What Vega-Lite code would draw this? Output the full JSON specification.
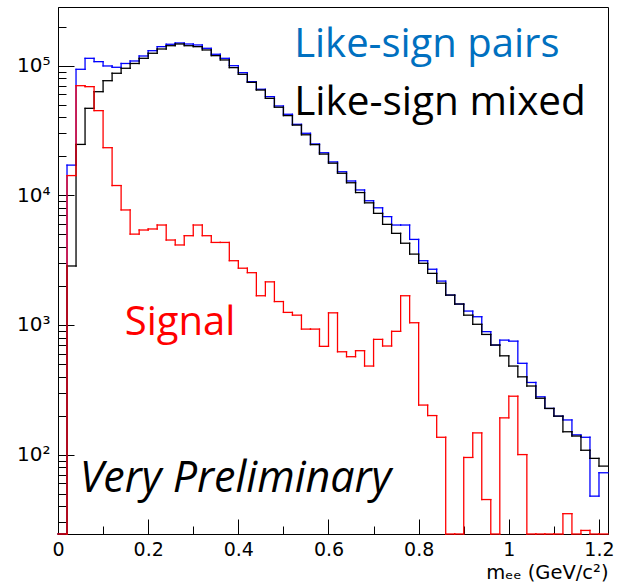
{
  "$schema": "https://vega.github.io/schema/vega-lite/v6.json",
  "width": 550,
  "height": 527,
  "autosize": {"type": "none"},
  "padding": {"left": 58, "top": 7, "right": 17, "bottom": 53},
  "background": "white",
  "config": {
    "view": {"stroke": "black", "strokeWidth": 1},
    "axis": {"grid": false, "domainColor": "black", "domainWidth": 1, "tickColor": "black", "tickWidth": 1, "labelColor": "black", "labelFont": "DejaVu Sans", "labelFontSize": 19, "labelOverlap": false, "labelFlush": false, "titleColor": "black", "titleFont": "DejaVu Sans", "titleFontWeight": "normal"}
  },
  "datasets": {
    "bins": [
      {"lo": 0.00, "hi": 0.02, "pairs": 0, "mixed": 0, "signal": 0},
      {"lo": 0.02, "hi": 0.04, "pairs": 17100, "mixed": 2850, "signal": 14200},
      {"lo": 0.04, "hi": 0.06, "pairs": 93800, "mixed": 24700, "signal": 70100},
      {"lo": 0.06, "hi": 0.08, "pairs": 114000, "mixed": 46900, "signal": 68900},
      {"lo": 0.08, "hi": 0.10, "pairs": 107400, "mixed": 63000, "signal": 45000},
      {"lo": 0.10, "hi": 0.12, "pairs": 99500, "mixed": 76600, "signal": 23300},
      {"lo": 0.12, "hi": 0.14, "pairs": 97200, "mixed": 87400, "signal": 11900},
      {"lo": 0.14, "hi": 0.16, "pairs": 104000, "mixed": 95500, "signal": 7710},
      {"lo": 0.16, "hi": 0.18, "pairs": 108700, "mixed": 104000, "signal": 5020},
      {"lo": 0.18, "hi": 0.20, "pairs": 118800, "mixed": 114000, "signal": 5400},
      {"lo": 0.20, "hi": 0.22, "pairs": 130500, "mixed": 124700, "signal": 5500},
      {"lo": 0.22, "hi": 0.24, "pairs": 140200, "mixed": 134500, "signal": 5900},
      {"lo": 0.24, "hi": 0.26, "pairs": 146300, "mixed": 142600, "signal": 4520},
      {"lo": 0.26, "hi": 0.28, "pairs": 149700, "mixed": 147000, "signal": 4140},
      {"lo": 0.28, "hi": 0.30, "pairs": 147000, "mixed": 142600, "signal": 4880},
      {"lo": 0.30, "hi": 0.32, "pairs": 144500, "mixed": 140200, "signal": 5900},
      {"lo": 0.32, "hi": 0.34, "pairs": 136200, "mixed": 132200, "signal": 4880},
      {"lo": 0.34, "hi": 0.36, "pairs": 122500, "mixed": 119500, "signal": 4330},
      {"lo": 0.36, "hi": 0.38, "pairs": 114000, "mixed": 110700, "signal": 4330},
      {"lo": 0.38, "hi": 0.40, "pairs": 100000, "mixed": 96600, "signal": 3130},
      {"lo": 0.40, "hi": 0.42, "pairs": 88300, "mixed": 85800, "signal": 2740},
      {"lo": 0.42, "hi": 0.44, "pairs": 75300, "mixed": 74400, "signal": 2530},
      {"lo": 0.44, "hi": 0.46, "pairs": 65800, "mixed": 64900, "signal": 1680},
      {"lo": 0.46, "hi": 0.48, "pairs": 57700, "mixed": 56000, "signal": 2150},
      {"lo": 0.48, "hi": 0.50, "pairs": 48900, "mixed": 47800, "signal": 1515},
      {"lo": 0.50, "hi": 0.52, "pairs": 42200, "mixed": 41200, "signal": 1250},
      {"lo": 0.52, "hi": 0.54, "pairs": 35300, "mixed": 34800, "signal": 1190},
      {"lo": 0.54, "hi": 0.56, "pairs": 30100, "mixed": 29300, "signal": 929},
      {"lo": 0.56, "hi": 0.58, "pairs": 24900, "mixed": 24600, "signal": 929},
      {"lo": 0.58, "hi": 0.60, "pairs": 21300, "mixed": 20800, "signal": 684},
      {"lo": 0.60, "hi": 0.62, "pairs": 18100, "mixed": 17700, "signal": 1240},
      {"lo": 0.62, "hi": 0.64, "pairs": 15200, "mixed": 14800, "signal": 621},
      {"lo": 0.64, "hi": 0.66, "pairs": 12900, "mixed": 12500, "signal": 569},
      {"lo": 0.66, "hi": 0.68, "pairs": 11000, "mixed": 10500, "signal": 633},
      {"lo": 0.68, "hi": 0.70, "pairs": 9080, "mixed": 8750, "signal": 482},
      {"lo": 0.70, "hi": 0.72, "pairs": 8010, "mixed": 7260, "signal": 774},
      {"lo": 0.72, "hi": 0.74, "pairs": 6850, "mixed": 5970, "signal": 688},
      {"lo": 0.74, "hi": 0.76, "pairs": 5900, "mixed": 5090, "signal": 893},
      {"lo": 0.76, "hi": 0.78, "pairs": 5900, "mixed": 4270, "signal": 1680},
      {"lo": 0.78, "hi": 0.80, "pairs": 4570, "mixed": 3520, "signal": 1040},
      {"lo": 0.80, "hi": 0.82, "pairs": 3130, "mixed": 2990, "signal": 241},
      {"lo": 0.82, "hi": 0.84, "pairs": 2690, "mixed": 2500, "signal": 200},
      {"lo": 0.84, "hi": 0.86, "pairs": 2180, "mixed": 2100, "signal": 136},
      {"lo": 0.86, "hi": 0.88, "pairs": 1700, "mixed": 1700, "signal": 0},
      {"lo": 0.88, "hi": 0.90, "pairs": 1450, "mixed": 1450, "signal": 0},
      {"lo": 0.90, "hi": 0.92, "pairs": 1280, "mixed": 1190, "signal": 95},
      {"lo": 0.92, "hi": 0.94, "pairs": 1157, "mixed": 1012, "signal": 147},
      {"lo": 0.94, "hi": 0.96, "pairs": 888, "mixed": 845, "signal": 45},
      {"lo": 0.96, "hi": 0.98, "pairs": 700, "mixed": 700, "signal": 0},
      {"lo": 0.98, "hi": 1.00, "pairs": 764, "mixed": 578, "signal": 192},
      {"lo": 1.00, "hi": 1.02, "pairs": 750, "mixed": 482, "signal": 282},
      {"lo": 1.02, "hi": 1.04, "pairs": 506, "mixed": 398, "signal": 100},
      {"lo": 1.04, "hi": 1.06, "pairs": 360, "mixed": 338, "signal": 0},
      {"lo": 1.06, "hi": 1.08, "pairs": 279, "mixed": 272, "signal": 0},
      {"lo": 1.08, "hi": 1.10, "pairs": 227, "mixed": 227, "signal": 0},
      {"lo": 1.10, "hi": 1.12, "pairs": 198, "mixed": 198, "signal": 0},
      {"lo": 1.12, "hi": 1.14, "pairs": 185, "mixed": 150, "signal": 35},
      {"lo": 1.14, "hi": 1.16, "pairs": 142, "mixed": 139, "signal": 0},
      {"lo": 1.16, "hi": 1.18, "pairs": 136, "mixed": 108, "signal": 26},
      {"lo": 1.18, "hi": 1.20, "pairs": 47.8, "mixed": 93.5, "signal": -46},
      {"lo": 1.20, "hi": 1.22, "pairs": 72.4, "mixed": 81.5, "signal": -9}
    ]
  },
  "layer": [
    {
      "data": {"name": "bins"},
      "mark": {"type": "rule", "color": "#0000ff", "strokeWidth": 1.3, "strokeCap": "square"},
      "encoding": {
        "x": {
          "field": "lo", "type": "quantitative",
          "scale": {"domain": [0, 1.22], "nice": false, "zero": false},
          "axis": {
            "title": "mₑₑ (GeV/c²)",
            "values": [0, 0.05, 0.1, 0.15, 0.2, 0.25, 0.3, 0.35, 0.4, 0.45, 0.5, 0.55, 0.6, 0.65, 0.7, 0.75, 0.8, 0.85, 0.9, 0.95, 1, 1.05, 1.1, 1.15, 1.2],
            "labelExpr": "abs(datum.value * 5 - round(datum.value * 5)) < 1e-6 ? format(datum.value, '~g') : ''",
            "tickSize": {"condition": {"test": "abs(datum.value * 5 - round(datum.value * 5)) < 1e-6", "value": -15}, "value": -8},
            "labelPadding": 21,
            "titleFontSize": 19.5,
            "titleAnchor": "end",
            "titleBaseline": "alphabetic",
            "titleY": 44
          }
        },
        "x2": {"field": "hi"},
        "y": {
          "field": "pairs", "type": "quantitative",
          "scale": {"type": "log", "domain": [24.4, 283600], "nice": false, "clamp": true},
          "axis": {
            "title": null,
            "values": [30, 40, 50, 60, 70, 80, 90, 100, 200, 300, 400, 500, 600, 700, 800, 900, 1000, 2000, 3000, 4000, 5000, 6000, 7000, 8000, 9000, 10000, 20000, 30000, 40000, 50000, 60000, 70000, 80000, 90000, 100000, 200000],
            "labelExpr": "datum.value == 100 ? '10²' : datum.value == 1000 ? '10³' : datum.value == 10000 ? '10⁴' : datum.value == 100000 ? '10⁵' : ''",
            "tickSize": {"condition": {"test": "indexof([100, 1000, 10000, 100000], datum.value) >= 0", "value": -16}, "value": -8},
            "labelFontSize": 20,
            "labelPadding": 24
          }
        }
      }
    },
    {
      "data": {"name": "bins"},
      "transform": [
        {"window": [{"op": "lead", "field": "pairs", "as": "next"}], "sort": [{"field": "lo"}]},
        {"filter": "datum.next != null"}
      ],
      "mark": {"type": "rule", "color": "#0000ff", "strokeWidth": 1.3, "strokeCap": "square"},
      "encoding": {
        "x": {"field": "hi", "type": "quantitative"},
        "y": {"field": "pairs", "type": "quantitative"},
        "y2": {"field": "next"}
      }
    },
    {
      "data": {"name": "bins"},
      "mark": {"type": "rule", "color": "#000000", "strokeWidth": 1.3, "strokeCap": "square"},
      "encoding": {
        "x": {"field": "lo", "type": "quantitative"},
        "x2": {"field": "hi"},
        "y": {"field": "mixed", "type": "quantitative"}
      }
    },
    {
      "data": {"name": "bins"},
      "transform": [
        {"window": [{"op": "lead", "field": "mixed", "as": "next"}], "sort": [{"field": "lo"}]},
        {"filter": "datum.next != null"}
      ],
      "mark": {"type": "rule", "color": "#000000", "strokeWidth": 1.3, "strokeCap": "square"},
      "encoding": {
        "x": {"field": "hi", "type": "quantitative"},
        "y": {"field": "mixed", "type": "quantitative"},
        "y2": {"field": "next"}
      }
    },
    {
      "data": {"name": "bins"},
      "mark": {"type": "rule", "color": "#ff0000", "strokeWidth": 1.3, "strokeCap": "square"},
      "encoding": {
        "x": {"field": "lo", "type": "quantitative"},
        "x2": {"field": "hi"},
        "y": {"field": "signal", "type": "quantitative"}
      }
    },
    {
      "data": {"name": "bins"},
      "transform": [
        {"window": [{"op": "lead", "field": "signal", "as": "next"}], "sort": [{"field": "lo"}]},
        {"filter": "datum.next != null"}
      ],
      "mark": {"type": "rule", "color": "#ff0000", "strokeWidth": 1.3, "strokeCap": "square"},
      "encoding": {
        "x": {"field": "hi", "type": "quantitative"},
        "y": {"field": "signal", "type": "quantitative"},
        "y2": {"field": "next"}
      }
    },
    {
      "data": {"values": [{"label": "Like-sign pairs", "m": 0.5238, "n": 116100}]},
      "mark": {"type": "text", "font": "Open Sans", "fontSize": 40, "align": "left", "baseline": "alphabetic", "color": "#0070c0"},
      "encoding": {
        "x": {"field": "m", "type": "quantitative"},
        "y": {"field": "n", "type": "quantitative"},
        "text": {"field": "label"}
      }
    },
    {
      "data": {"values": [{"label": "Like-sign mixed", "m": 0.5238, "n": 41650}]},
      "mark": {"type": "text", "font": "Open Sans", "fontSize": 40.5, "align": "left", "baseline": "alphabetic", "color": "#000000"},
      "encoding": {
        "x": {"field": "m", "type": "quantitative"},
        "y": {"field": "n", "type": "quantitative"},
        "text": {"field": "label"}
      }
    },
    {
      "data": {"values": [{"label": "Signal", "m": 0.1482, "n": 835.6}]},
      "mark": {"type": "text", "font": "Open Sans", "fontSize": 40, "align": "left", "baseline": "alphabetic", "color": "#ff0000"},
      "encoding": {
        "x": {"field": "m", "type": "quantitative"},
        "y": {"field": "n", "type": "quantitative"},
        "text": {"field": "label"}
      }
    },
    {
      "data": {"values": [{"label": "Very Preliminary", "m": 0.0482, "n": 51.4}]},
      "mark": {"type": "text", "font": "Open Sans", "fontSize": 43, "fontStyle": "italic", "align": "left", "baseline": "alphabetic", "color": "#000000"},
      "encoding": {
        "x": {"field": "m", "type": "quantitative"},
        "y": {"field": "n", "type": "quantitative"},
        "text": {"field": "label"}
      }
    }
  ]
}
